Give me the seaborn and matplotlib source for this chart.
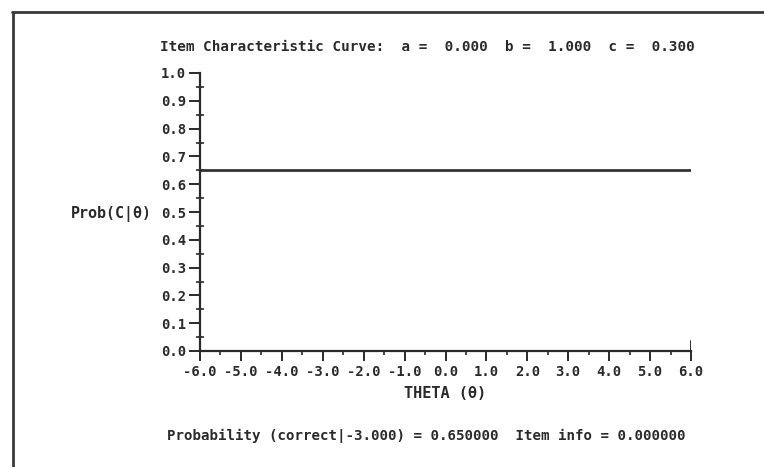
import matplotlib
matplotlib.use("Agg")
import matplotlib.pyplot as plt
import seaborn as sns
import pandas as pd
from matplotlib.lines import Line2D
from matplotlib.ticker import MultipleLocator

# Data
theta = [-6.0, 6.0]
prob = [0.65, 0.65]
xticks = [-6.0, -5.0, -4.0, -3.0, -2.0, -1.0, 0.0, 1.0, 2.0, 3.0, 4.0, 5.0, 6.0]
yticks = [0.0, 0.1, 0.2, 0.3, 0.4, 0.5, 0.6, 0.7, 0.8, 0.9, 1.0]
title = "Item Characteristic Curve:  a =  0.000  b =  1.000  c =  0.300"
footer = "Probability (correct|-3.000) = 0.650000  Item info = 0.000000"
xlabel = "THETA (θ)"
ylabel = "Prob(C|θ)"

sns.set_theme(style="white")
plt.rcParams['font.family'] = ['DejaVu Sans Mono', 'DejaVu Sans']
ink = "#2a2a2a"

df = pd.DataFrame({"theta": theta, "prob": prob})

fig = plt.figure(figsize=(7.64, 4.67), dpi=100)
ax = fig.add_axes([200/764, 1-351/467, (691-200)/764, (351-73)/467])

sns.lineplot(data=df, x="theta", y="prob", ax=ax, color="#333333", linewidth=2.0)

ax.set_xlim(-6, 6)
ax.set_ylim(0, 1)
ax.set_xticks(xticks)
ax.set_xticklabels([f"{v:.1f}" for v in xticks])
ax.set_yticks(yticks)
ax.set_yticklabels([f"{v:.1f}" for v in yticks])
ax.xaxis.set_minor_locator(MultipleLocator(0.5))
ax.yaxis.set_minor_locator(MultipleLocator(0.05))

for s in ["top", "right"]:
    ax.spines[s].set_visible(False)
for s in ["left", "bottom"]:
    ax.spines[s].set_color(ink)
    ax.spines[s].set_linewidth(1.6)

ax.tick_params(axis="x", which="major", direction="out", length=7, width=1.4,
               colors=ink, labelsize=10, pad=3, bottom=True)
ax.tick_params(axis="x", which="minor", direction="out", length=3, width=1.2,
               colors=ink, bottom=True)
ax.tick_params(axis="y", which="major", direction="out", length=8, width=1.4,
               colors=ink, labelsize=10, pad=2, left=True)
ax.tick_params(axis="y", which="minor", direction="inout", length=6, width=1.2,
               colors=ink, left=True)
for lab in ax.get_xticklabels() + ax.get_yticklabels():
    lab.set_fontweight("bold")

# end marker at right end of x axis
ax.axvline(6, ymin=0, ymax=0.035, color=ink, linewidth=1.4)

ax.set_xlabel("")
ax.set_ylabel("")
fig.text(445/764, 1-393/467, xlabel, ha="center", va="center", fontsize=11,
         fontweight="bold", color=ink)
fig.text(152/764, 1-214/467, ylabel, ha="right", va="center", fontsize=10.8,
         fontweight="bold", color=ink)
fig.text(160/764, 1-47/467, title, ha="left", va="center", fontsize=10.3,
         fontweight="bold", color=ink)
fig.text(167/764, 1-436/467, footer, ha="left", va="center", fontsize=10.2,
         fontweight="bold", color=ink)

# page frame (top and left edges)
fig.add_artist(Line2D([12/764, 1.0], [1-12/467, 1-12/467], transform=fig.transFigure,
                      color="#3a3a3a", linewidth=2.0))
fig.add_artist(Line2D([13/764, 13/764], [1-12/467, 0.0], transform=fig.transFigure,
                      color="#3a3a3a", linewidth=2.0))

fig.savefig("out.png", dpi=100, facecolor="white")
